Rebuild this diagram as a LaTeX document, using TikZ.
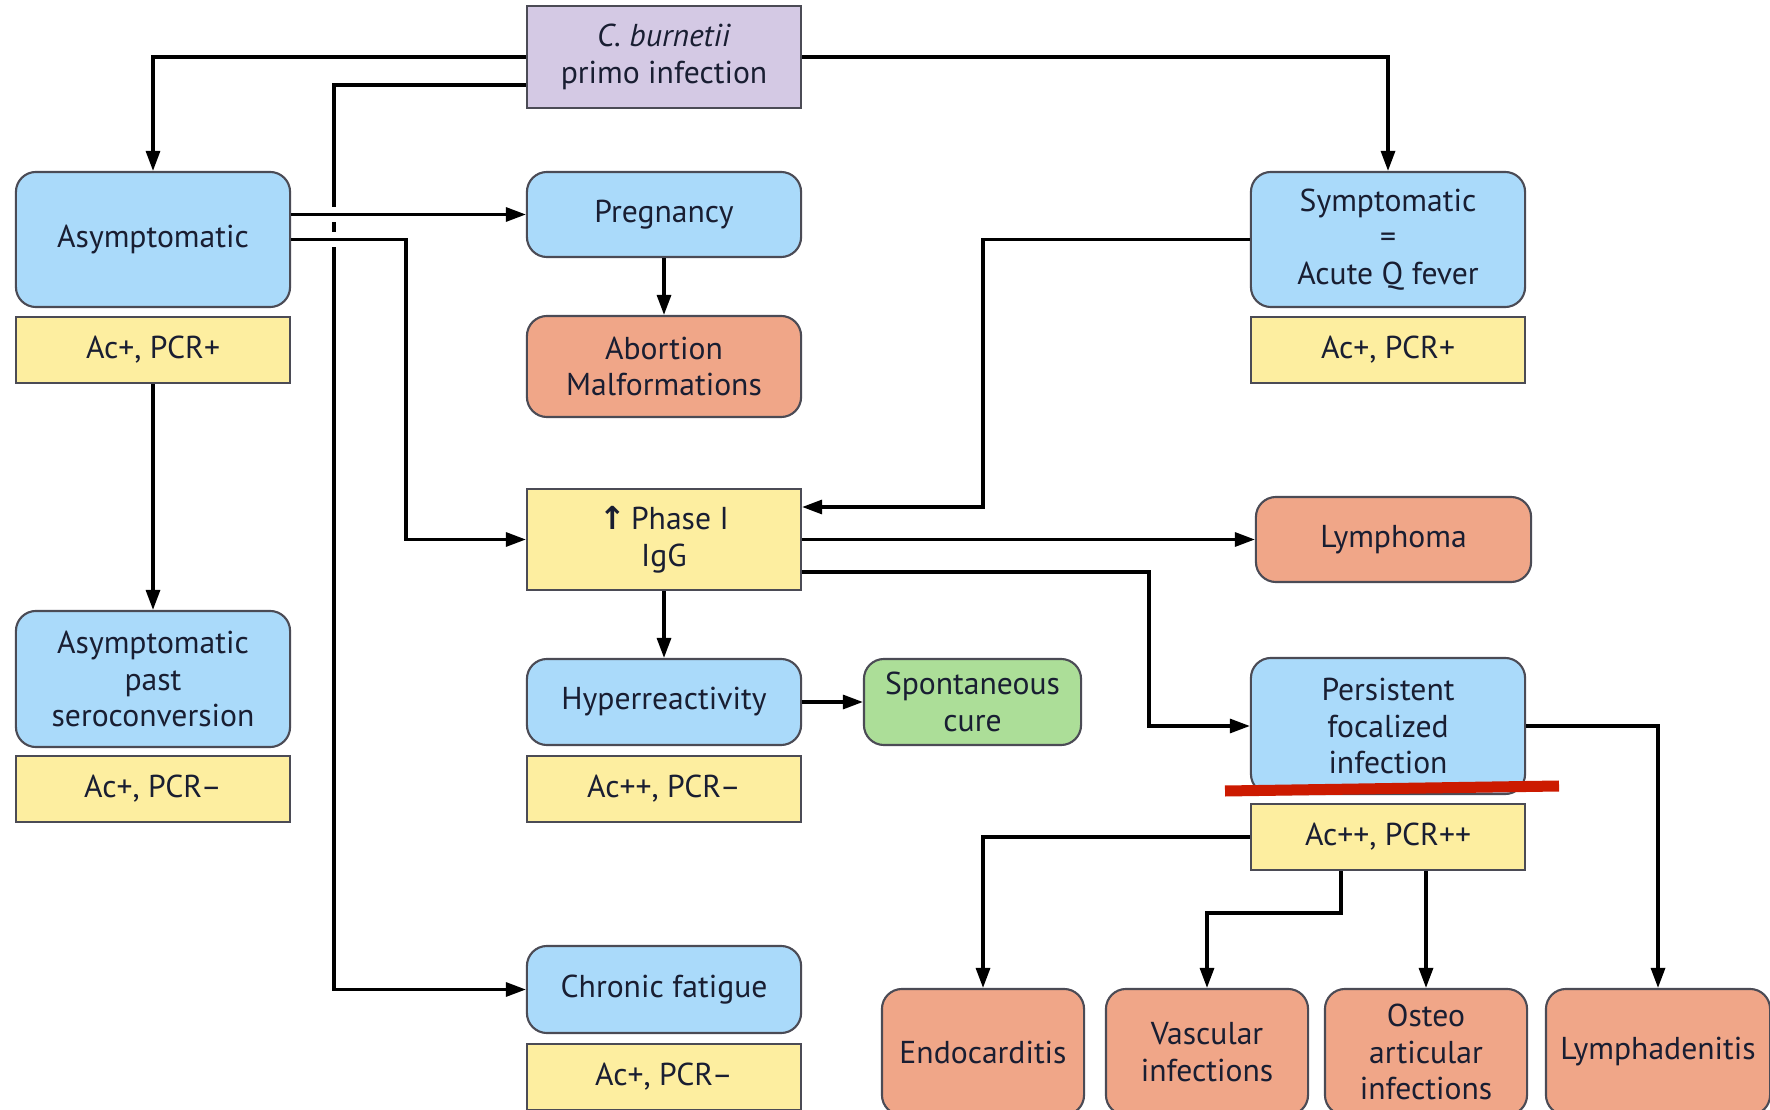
\documentclass[tikz,border=0pt]{standalone}
\usepackage{fontspec}
\setmainfont{PT Sans}
\newfontfamily\symfont{DejaVu Sans}
\usetikzlibrary{arrows.meta, positioning}

\definecolor{qblue}{RGB}{170,218,250}
\definecolor{qyellow}{RGB}{253,238,160}
\definecolor{qred}{RGB}{240,166,136}
\definecolor{qgreen}{RGB}{172,222,152}
\definecolor{qpurple}{RGB}{212,201,228}
\definecolor{qline}{RGB}{75,75,85}
\definecolor{qtext}{RGB}{25,30,50}
\definecolor{qmark}{RGB}{204,26,0}

\begin{document}
\begin{tikzpicture}[x=0.01cm, y=-0.01cm,
    font=\fontsize{9}{10.4}\selectfont, text=qtext,
    box/.style={draw=qline, line width=0.6pt, align=center, inner sep=1pt,
      minimum width=2.74cm},
    bluebox/.style={box, fill=qblue, rounded corners=0.2cm},
    yellowbox/.style={box, fill=qyellow, minimum height=0.66cm},
    redbox/.style={box, fill=qred, rounded corners=0.2cm},
    greenbox/.style={box, fill=qgreen, rounded corners=0.2cm},
    wire/.style={line width=0.9pt},
    arr/.style={wire, -{Triangle[length=0.2cm,width=0.14cm]}},
    bridge/.style={preaction={draw=white, line width=4pt, -,
      shorten <=3pt, shorten >=3pt}}]

    \useasboundingbox (0,0) rectangle (1770,1110);
    \clip (0,0) rectangle (1770,1110);

    % Top
    \node[box, fill=qpurple, minimum height=1.02cm] (cburnetii) at (664,57)
      {\textit{C. burnetii}\\primo infection};

    % Left column
    \node[bluebox, minimum height=1.35cm] (asympt) at (153,239.5) {Asymptomatic};
    \node[yellowbox] (asymptab) at (153,350) {Ac+, PCR+};
    \node[bluebox, minimum height=1.36cm] (past) at (153,679)
      {Asymptomatic\\past\\seroconversion};
    \node[yellowbox] (pastab) at (153,789) {Ac+, PCR–};

    % Middle column
    \node[bluebox, minimum height=0.85cm] (pregnancy) at (664,214.5) {Pregnancy};
    \node[redbox, minimum height=1.01cm] (abortion) at (664,366.5)
      {Abortion\\Malformations};
    \node[box, fill=qyellow, minimum height=1.01cm] (phase) at (664,539.5)
      {{\symfont\bfseries ↑}\,Phase I\\IgG};
    \node[bluebox, minimum height=0.86cm] (hyper) at (664,702) {Hyperreactivity};
    \node[yellowbox] (hyperab) at (664,789) {Ac++, PCR–};
    \node[greenbox, minimum width=2.17cm, minimum height=0.86cm] (cure) at (972.5,702)
      {Spontaneous\\cure};
    \node[bluebox, minimum height=0.87cm] (fatigue) at (664,989.5) {Chronic fatigue};
    \node[yellowbox] (fatigueab) at (664,1077) {Ac+, PCR–};

    % Right column
    \node[bluebox, minimum height=1.35cm] (sympt) at (1388,239.5)
      {Symptomatic\\=\\Acute Q fever};
    \node[yellowbox] (symptab) at (1388,350) {Ac+, PCR+};
    \node[redbox, minimum width=2.75cm, minimum height=0.85cm] (lymphoma) at (1393.5,539.5)
      {Lymphoma};
    \node[bluebox, minimum height=1.36cm] (persist) at (1388,726)
      {Persistent\\focalized\\infection};
    \node[yellowbox] (persistab) at (1388,837) {Ac++, PCR++};

    % Bottom row
    \node[redbox, minimum width=2.02cm, minimum height=1.26cm] (endo) at (983,1052)
      {Endocarditis};
    \node[redbox, minimum width=2.02cm, minimum height=1.26cm] (vascular) at (1207,1052)
      {Vascular\\infections};
    \node[redbox, minimum width=2.02cm, minimum height=1.26cm] (osteo) at (1426,1052)
      {Osteo\\articular\\infections};
    \node[redbox, minimum width=2.24cm, minimum height=1.26cm] (lymphad) at (1658,1052)
      {Lymphadenitis};

    % Connectors
    \draw[arr] (cburnetii.west) -| (asympt.north);
    \draw[arr] (cburnetii.east) -| (sympt.north);
    \draw[arr] (cburnetii.west |- 0,85) -- (334,85) |- (fatigue.west);
    \draw[arr, bridge] (asympt.east |- pregnancy.west) -- (pregnancy.west);
    \draw[arr, bridge] (asympt.east) -- (asympt.east -| 406,0) |- (phase.west);
    \draw[arr] (pregnancy.south) -- (abortion.north);
    \draw[arr] (asymptab.south) -- (past.north);
    \draw[arr] (sympt.west) -- (sympt.west -| 983,0) |- (phase.east |- 0,507);
    \draw[arr] (phase.east) -- (lymphoma.west);
    \draw[arr] (phase.east |- 0,572) -- (1149,572) |- (persist.west);
    \draw[arr] (phase.south) -- (hyper.north);
    \draw[arr] (hyper.east) -- (cure.west);
    \draw[arr] (persist.east) -| (lymphad.north);
    \draw[arr] (persistab.west) -| (endo.north);
    \draw[arr] (persistab.south -| 1341,0) -- (1341,913) -| (vascular.north);
    \draw[arr] (osteo.north |- persistab.south) -- (osteo.north);

    % Red mark
    \draw[qmark, line width=0.11cm] (1225,791) -- (1559,786);
\end{tikzpicture}
\end{document}
